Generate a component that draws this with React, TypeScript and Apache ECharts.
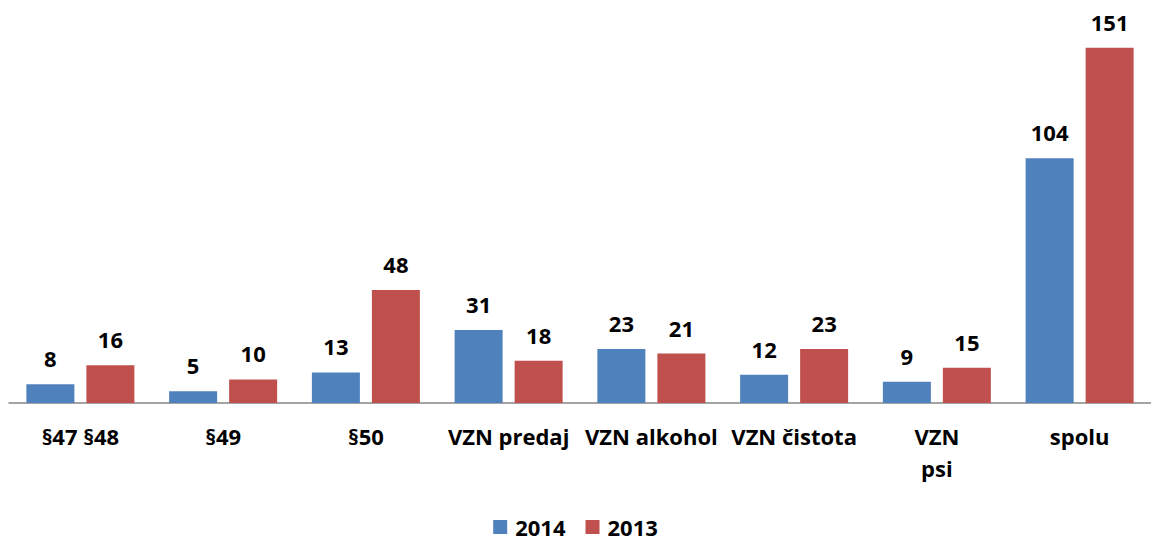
import React, { useEffect, useRef } from "react";
import * as echarts from "echarts";

const categories = ["§47 §48", "§49", "§50", "VZN predaj", "VZN alkohol", "VZN čistota", "VZN\npsi", "spolu"];
const values2014 = [8, 5, 13, 31, 23, 12, 9, 104];
const values2013 = [16, 10, 48, 18, 21, 23, 15, 151];
const seriesNames = ["2014", "2013"];
const colors = ["#4F81BD", "#C0504D"];

const FONT = "'Open Sans', Lato, sans-serif";

export default function App() {
  const ref = useRef<HTMLDivElement>(null);
  useEffect(() => {
    if (!ref.current) return;
    const chart = echarts.init(ref.current, null, { renderer: "svg" });
    const label = {
      show: true,
      position: "top",
      distance: 15,
      fontFamily: FONT,
      fontWeight: "bold",
      fontSize: 22,
      color: "#000",
    };
    chart.setOption({
      animation: false,
      backgroundColor: "#fff",
      legend: {
        top: 515,
        padding: 0,
        left: "center",
        itemWidth: 14,
        itemHeight: 14,
        itemGap: 20,
        icon: "rect",
        textStyle: {
          fontFamily: FONT,
          fontWeight: "bold",
          fontSize: 22,
          lineHeight: 24,
          color: "#000",
          padding: [0, 0, 0, 3],
        },
        data: seriesNames,
      },
      grid: { left: 9, top: 26.5, width: 1144, height: 376.5 },
      xAxis: {
        type: "category",
        data: categories,
        axisLine: { lineStyle: { color: "#868686", width: 1.5 } },
        axisTick: { show: false },
        axisLabel: {
          margin: 17,
          fontFamily: FONT,
          fontWeight: "bold",
          fontSize: 22,
          color: "#000",
          lineHeight: 32,
          interval: 0,
        },
      },
      yAxis: {
        type: "value",
        min: 0,
        max: 160,
        show: false,
        splitLine: { show: false },
      },
      series: [
        {
          name: seriesNames[0],
          type: "bar",
          data: values2014,
          barWidth: 48,
          barGap: "25%",
          itemStyle: { color: colors[0] },
          label,
        },
        {
          name: seriesNames[1],
          type: "bar",
          data: values2013,
          barWidth: 48,
          barGap: "25%",
          itemStyle: { color: colors[1] },
          label,
        },
      ],
    });
    return () => chart.dispose();
  }, []);
  return (
    <div
      ref={ref}
      style={{ position: "fixed", left: 0, top: 0, width: 1151, height: 541, background: "#fff" }}
    />
  );
}
